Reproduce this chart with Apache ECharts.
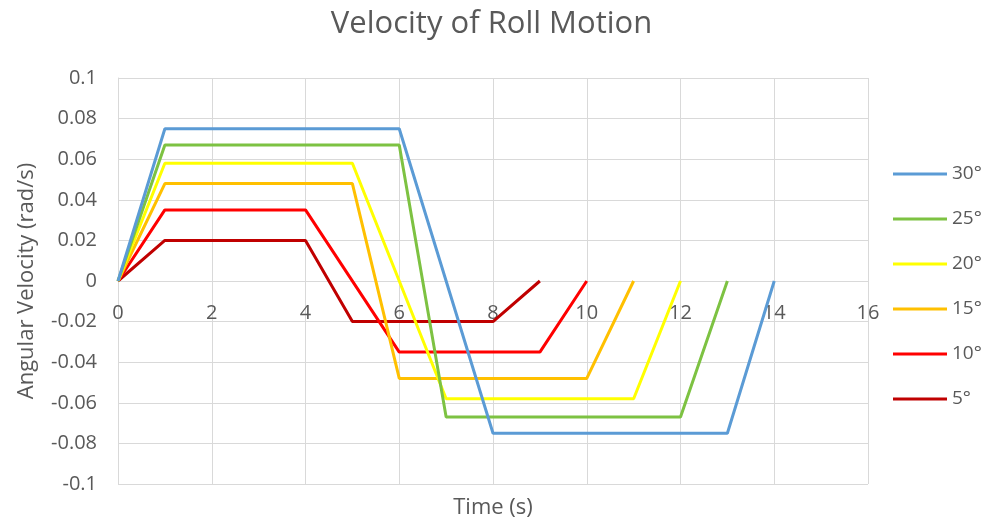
<!DOCTYPE html>
<html>
<head>
<meta charset="utf-8">
<script src="https://cdn.jsdelivr.net/npm/echarts@6/dist/echarts.min.js"></script>
<style>
  html, body { margin: 0; padding: 0; background: #fff; }
  #chart { width: 983px; height: 520px; }
</style>
</head>
<body>
<div id="chart"></div>
<script>
// Angular velocity profiles of roll motion, one per roll angle
const seriesNames = ['30°', '25°', '20°', '15°', '10°', '5°'];
const seriesColors = ['#5B9BD5', '#7DC242', '#FFFF00', '#FFC000', '#FF0000', '#C00000'];

const roll30 = [[0, 0], [1, 0.075], [6, 0.075], [8, -0.075], [13, -0.075], [14, 0]];
const roll25 = [[0, 0], [1, 0.067], [6, 0.067], [7, -0.067], [12, -0.067], [13, 0]];
const roll20 = [[0, 0], [1, 0.058], [5, 0.058], [7, -0.058], [11, -0.058], [12, 0]];
const roll15 = [[0, 0], [1, 0.048], [5, 0.048], [6, -0.048], [10, -0.048], [11, 0]];
const roll10 = [[0, 0], [1, 0.035], [4, 0.035], [6, -0.035], [9, -0.035], [10, 0]];
const roll5  = [[0, 0], [1, 0.02],  [4, 0.02],  [5, -0.02],  [8, -0.02],  [9, 0]];

const seriesData = [roll30, roll25, roll20, roll15, roll10, roll5];

const fontFamily = '"Open Sans", Lato, sans-serif';
const textColor = '#595959';
const gridColor = '#d9d9d9';

// plot area: 0..16 s across, -0.1..0.1 rad/s down; time axis sits on the zero line
const plotTop = 78;
const plotBottom = 36;
const plotHeight = 520 - plotTop - plotBottom;

const chart = echarts.init(document.getElementById('chart'));
chart.setOption({
  animation: false,
  backgroundColor: '#ffffff',
  title: {
    text: 'Velocity of Roll Motion',
    left: 'center',
    top: 4,
    textStyle: { fontFamily, fontSize: 31, fontWeight: 'normal', color: textColor }
  },
  legend: {
    orient: 'vertical',
    left: 893,
    top: 164,
    padding: 0,
    icon: 'rect',
    itemWidth: 54,
    itemHeight: 3,
    itemGap: 25,
    textStyle: { fontFamily, fontSize: 19, color: textColor, lineHeight: 20 },
    data: seriesNames
  },
  grid: { left: 118, right: 115, top: plotTop, bottom: plotBottom, containLabel: false, outerBoundsMode: 'none' },
  xAxis: {
    type: 'value',
    min: 0,
    max: 16,
    interval: 2,
    position: 'bottom',
    offset: -plotHeight / 2,
    name: 'Time (s)',
    nameLocation: 'middle',
    nameGap: 216,
    nameTextStyle: { fontFamily, fontSize: 22, color: textColor },
    axisLine: { show: true, onZero: false, lineStyle: { color: gridColor, width: 1 } },
    axisTick: { show: false },
    axisLabel: { fontFamily, fontSize: 20, color: textColor, margin: 22 },
    splitLine: { show: true, lineStyle: { color: gridColor, width: 1 } }
  },
  yAxis: {
    type: 'value',
    min: -0.1,
    max: 0.1,
    interval: 0.02,
    name: 'Angular Velocity (rad/s)',
    nameLocation: 'middle',
    nameGap: 80,
    nameTextStyle: { fontFamily, fontSize: 22, color: textColor },
    axisLine: { show: true, lineStyle: { color: gridColor, width: 1 } },
    axisTick: { show: false },
    axisLabel: {
      fontFamily, fontSize: 20, color: textColor, margin: 21,
      formatter: v => String(+v.toFixed(2))
    },
    splitLine: { show: true, lineStyle: { color: gridColor, width: 1 } }
  },
  series: seriesNames.map((name, i) => ({
    name,
    type: 'line',
    data: seriesData[i],
    symbol: 'none',
    color: seriesColors[i],
    lineStyle: { width: 3, color: seriesColors[i] },
    z: 10 - i
  }))
});
</script>
</body>
</html>
